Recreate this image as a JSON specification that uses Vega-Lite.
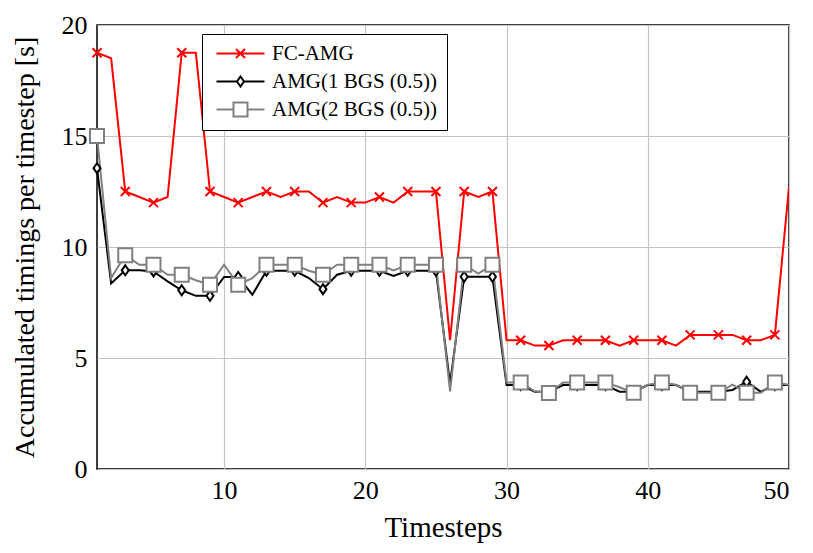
{
  "$schema": "https://vega.github.io/schema/vega-lite/v6.json",
  "width": 692,
  "height": 444,
  "autosize": {"type": "none"},
  "padding": {"left": 97, "top": 25, "right": 24, "bottom": 84},
  "background": "white",
  "config": {
    "view": {"stroke": "black", "strokeWidth": 1.5},
    "font": "Liberation Serif",
    "axis": {
      "labelFont": "Liberation Serif",
      "labelFontSize": 26,
      "labelColor": "black",
      "titleFont": "Liberation Serif",
      "titleFontSize": 28,
      "titleFontWeight": "normal",
      "titleColor": "black",
      "ticks": false,
      "domain": false,
      "gridColor": "#c4c4c4",
      "gridWidth": 1.2,
      "gridOpacity": 1
    }
  },
  "data": {"values": [
    {"t":1,"s":"FC-AMG","v":18.75},{"t":2,"s":"FC-AMG","v":18.5},{"t":3,"s":"FC-AMG","v":12.5},{"t":4,"s":"FC-AMG","v":12.25},{"t":5,"s":"FC-AMG","v":12.0},
    {"t":6,"s":"FC-AMG","v":12.25},{"t":7,"s":"FC-AMG","v":18.75},{"t":8,"s":"FC-AMG","v":18.75},{"t":9,"s":"FC-AMG","v":12.5},{"t":10,"s":"FC-AMG","v":12.25},
    {"t":11,"s":"FC-AMG","v":12.0},{"t":12,"s":"FC-AMG","v":12.25},{"t":13,"s":"FC-AMG","v":12.5},{"t":14,"s":"FC-AMG","v":12.25},{"t":15,"s":"FC-AMG","v":12.5},
    {"t":16,"s":"FC-AMG","v":12.5},{"t":17,"s":"FC-AMG","v":12.0},{"t":18,"s":"FC-AMG","v":12.25},{"t":19,"s":"FC-AMG","v":12.0},{"t":20,"s":"FC-AMG","v":12.0},
    {"t":21,"s":"FC-AMG","v":12.25},{"t":22,"s":"FC-AMG","v":12.0},{"t":23,"s":"FC-AMG","v":12.5},{"t":24,"s":"FC-AMG","v":12.5},{"t":25,"s":"FC-AMG","v":12.5},
    {"t":26,"s":"FC-AMG","v":5.8},{"t":27,"s":"FC-AMG","v":12.5},{"t":28,"s":"FC-AMG","v":12.25},{"t":29,"s":"FC-AMG","v":12.5},{"t":30,"s":"FC-AMG","v":5.8},
    {"t":31,"s":"FC-AMG","v":5.8},{"t":32,"s":"FC-AMG","v":5.56},{"t":33,"s":"FC-AMG","v":5.56},{"t":34,"s":"FC-AMG","v":5.8},{"t":35,"s":"FC-AMG","v":5.8},
    {"t":36,"s":"FC-AMG","v":5.8},{"t":37,"s":"FC-AMG","v":5.8},{"t":38,"s":"FC-AMG","v":5.56},{"t":39,"s":"FC-AMG","v":5.8},{"t":40,"s":"FC-AMG","v":5.8},
    {"t":41,"s":"FC-AMG","v":5.8},{"t":42,"s":"FC-AMG","v":5.56},{"t":43,"s":"FC-AMG","v":6.04},{"t":44,"s":"FC-AMG","v":6.04},{"t":45,"s":"FC-AMG","v":6.04},
    {"t":46,"s":"FC-AMG","v":6.04},{"t":47,"s":"FC-AMG","v":5.8},{"t":48,"s":"FC-AMG","v":5.8},{"t":49,"s":"FC-AMG","v":6.04},{"t":50,"s":"FC-AMG","v":12.7},

    {"t":1,"s":"AMG(1 BGS (0.5))","v":13.55},{"t":2,"s":"AMG(1 BGS (0.5))","v":8.36},{"t":3,"s":"AMG(1 BGS (0.5))","v":8.95},{"t":4,"s":"AMG(1 BGS (0.5))","v":8.95},{"t":5,"s":"AMG(1 BGS (0.5))","v":8.9},
    {"t":6,"s":"AMG(1 BGS (0.5))","v":8.45},{"t":7,"s":"AMG(1 BGS (0.5))","v":8.05},{"t":8,"s":"AMG(1 BGS (0.5))","v":7.8},{"t":9,"s":"AMG(1 BGS (0.5))","v":7.8},{"t":10,"s":"AMG(1 BGS (0.5))","v":8.65},
    {"t":11,"s":"AMG(1 BGS (0.5))","v":8.65},{"t":12,"s":"AMG(1 BGS (0.5))","v":7.85},{"t":13,"s":"AMG(1 BGS (0.5))","v":8.93},{"t":14,"s":"AMG(1 BGS (0.5))","v":8.93},{"t":15,"s":"AMG(1 BGS (0.5))","v":8.93},
    {"t":16,"s":"AMG(1 BGS (0.5))","v":8.6},{"t":17,"s":"AMG(1 BGS (0.5))","v":8.1},{"t":18,"s":"AMG(1 BGS (0.5))","v":8.75},{"t":19,"s":"AMG(1 BGS (0.5))","v":8.93},{"t":20,"s":"AMG(1 BGS (0.5))","v":8.93},
    {"t":21,"s":"AMG(1 BGS (0.5))","v":8.93},{"t":22,"s":"AMG(1 BGS (0.5))","v":8.7},{"t":23,"s":"AMG(1 BGS (0.5))","v":8.93},{"t":24,"s":"AMG(1 BGS (0.5))","v":8.93},{"t":25,"s":"AMG(1 BGS (0.5))","v":8.93},
    {"t":26,"s":"AMG(1 BGS (0.5))","v":3.85},{"t":27,"s":"AMG(1 BGS (0.5))","v":8.66},{"t":28,"s":"AMG(1 BGS (0.5))","v":8.66},{"t":29,"s":"AMG(1 BGS (0.5))","v":8.66},{"t":30,"s":"AMG(1 BGS (0.5))","v":3.78},
    {"t":31,"s":"AMG(1 BGS (0.5))","v":3.78},{"t":32,"s":"AMG(1 BGS (0.5))","v":3.48},{"t":33,"s":"AMG(1 BGS (0.5))","v":3.48},{"t":34,"s":"AMG(1 BGS (0.5))","v":3.78},{"t":35,"s":"AMG(1 BGS (0.5))","v":3.78},
    {"t":36,"s":"AMG(1 BGS (0.5))","v":3.78},{"t":37,"s":"AMG(1 BGS (0.5))","v":3.78},{"t":38,"s":"AMG(1 BGS (0.5))","v":3.48},{"t":39,"s":"AMG(1 BGS (0.5))","v":3.48},{"t":40,"s":"AMG(1 BGS (0.5))","v":3.78},
    {"t":41,"s":"AMG(1 BGS (0.5))","v":3.78},{"t":42,"s":"AMG(1 BGS (0.5))","v":3.78},{"t":43,"s":"AMG(1 BGS (0.5))","v":3.48},{"t":44,"s":"AMG(1 BGS (0.5))","v":3.48},{"t":45,"s":"AMG(1 BGS (0.5))","v":3.48},
    {"t":46,"s":"AMG(1 BGS (0.5))","v":3.56},{"t":47,"s":"AMG(1 BGS (0.5))","v":3.93},{"t":48,"s":"AMG(1 BGS (0.5))","v":3.48},{"t":49,"s":"AMG(1 BGS (0.5))","v":3.78},{"t":50,"s":"AMG(1 BGS (0.5))","v":3.78},

    {"t":1,"s":"AMG(2 BGS (0.5))","v":15.0},{"t":2,"s":"AMG(2 BGS (0.5))","v":8.6},{"t":3,"s":"AMG(2 BGS (0.5))","v":9.63},{"t":4,"s":"AMG(2 BGS (0.5))","v":9.2},{"t":5,"s":"AMG(2 BGS (0.5))","v":9.2},
    {"t":6,"s":"AMG(2 BGS (0.5))","v":8.75},{"t":7,"s":"AMG(2 BGS (0.5))","v":8.75},{"t":8,"s":"AMG(2 BGS (0.5))","v":8.5},{"t":9,"s":"AMG(2 BGS (0.5))","v":8.3},{"t":10,"s":"AMG(2 BGS (0.5))","v":9.2},
    {"t":11,"s":"AMG(2 BGS (0.5))","v":8.3},{"t":12,"s":"AMG(2 BGS (0.5))","v":8.6},{"t":13,"s":"AMG(2 BGS (0.5))","v":9.2},{"t":14,"s":"AMG(2 BGS (0.5))","v":9.2},{"t":15,"s":"AMG(2 BGS (0.5))","v":9.2},
    {"t":16,"s":"AMG(2 BGS (0.5))","v":8.93},{"t":17,"s":"AMG(2 BGS (0.5))","v":8.75},{"t":18,"s":"AMG(2 BGS (0.5))","v":9.2},{"t":19,"s":"AMG(2 BGS (0.5))","v":9.2},{"t":20,"s":"AMG(2 BGS (0.5))","v":9.2},
    {"t":21,"s":"AMG(2 BGS (0.5))","v":9.2},{"t":22,"s":"AMG(2 BGS (0.5))","v":8.95},{"t":23,"s":"AMG(2 BGS (0.5))","v":9.2},{"t":24,"s":"AMG(2 BGS (0.5))","v":9.2},{"t":25,"s":"AMG(2 BGS (0.5))","v":9.2},
    {"t":26,"s":"AMG(2 BGS (0.5))","v":3.5},{"t":27,"s":"AMG(2 BGS (0.5))","v":9.2},{"t":28,"s":"AMG(2 BGS (0.5))","v":8.8},{"t":29,"s":"AMG(2 BGS (0.5))","v":9.2},{"t":30,"s":"AMG(2 BGS (0.5))","v":3.9},
    {"t":31,"s":"AMG(2 BGS (0.5))","v":3.9},{"t":32,"s":"AMG(2 BGS (0.5))","v":3.5},{"t":33,"s":"AMG(2 BGS (0.5))","v":3.42},{"t":34,"s":"AMG(2 BGS (0.5))","v":3.9},{"t":35,"s":"AMG(2 BGS (0.5))","v":3.9},
    {"t":36,"s":"AMG(2 BGS (0.5))","v":3.9},{"t":37,"s":"AMG(2 BGS (0.5))","v":3.9},{"t":38,"s":"AMG(2 BGS (0.5))","v":3.68},{"t":39,"s":"AMG(2 BGS (0.5))","v":3.43},{"t":40,"s":"AMG(2 BGS (0.5))","v":3.8},
    {"t":41,"s":"AMG(2 BGS (0.5))","v":3.9},{"t":42,"s":"AMG(2 BGS (0.5))","v":3.8},{"t":43,"s":"AMG(2 BGS (0.5))","v":3.43},{"t":44,"s":"AMG(2 BGS (0.5))","v":3.43},{"t":45,"s":"AMG(2 BGS (0.5))","v":3.43},
    {"t":46,"s":"AMG(2 BGS (0.5))","v":3.8},{"t":47,"s":"AMG(2 BGS (0.5))","v":3.43},{"t":48,"s":"AMG(2 BGS (0.5))","v":3.43},{"t":49,"s":"AMG(2 BGS (0.5))","v":3.9},{"t":50,"s":"AMG(2 BGS (0.5))","v":3.8}
  ]},
  "encoding": {
    "x": {"field": "t", "type": "quantitative",
      "scale": {"domain": [1, 50], "nice": false, "zero": false},
      "axis": {"values": [10, 20, 30, 40, 50], "title": "Timesteps", "labelPadding": 8, "titlePadding": 10, "titleFontSize": 29}},
    "y": {"field": "v", "type": "quantitative",
      "scale": {"domain": [0, 20], "nice": false},
      "axis": {"values": [0, 5, 10, 15, 20], "title": "Accumulated timings per timestep [s]", "labelPadding": 10, "titlePadding": 22}},
    "color": {"field": "s", "type": "nominal",
      "scale": {"domain": ["FC-AMG", "AMG(1 BGS (0.5))", "AMG(2 BGS (0.5))"], "range": ["#ff0000", "#000000", "#808080"]},
      "legend": {
        "orient": "none", "legendX": 105, "legendY": 9,
        "title": null,
        "strokeColor": "black", "fillColor": "white", "padding": 9,
        "labelFont": "Liberation Serif", "labelFontSize": 21, "labelColor": "black", "labelLimit": 400,
        "symbolSize": 100, "symbolStrokeWidth": 2, "symbolOffset": 19, "labelOffset": 21,
        "symbolFillColor": "white", "symbolOpacity": 1,
        "rowPadding": 6,
        "symbolType": {"expr": "datum.value === 'FC-AMG' ? 'M-4.8,0H4.8M-0.9,-0.9L0.9,0.9M-0.9,0.9L0.9,-0.9' : (datum.value === 'AMG(1 BGS (0.5))' ? 'M-4.8,0H-0.7M0.7,0H4.8M0,-1L0.7,0L0,1L-0.7,0Z' : 'M-4.8,0H-1.4M1.4,0H4.8M-1.4,-1.4H1.4V1.4H-1.4Z')"}
      }}
  },
  "layer": [
    {
      "mark": {"type": "line", "strokeWidth": 2, "clip": true},
      "encoding": {
        "order": {"field": "t", "type": "quantitative"}
      }
    },
    {
      "transform": [{"filter": "datum.s === 'FC-AMG' && datum.t % 2 == 1"}],
      "mark": {"type": "point", "filled": false, "fill": "white", "size": 100, "strokeWidth": 2, "opacity": 1, "clip": false,
        "shape": "M-0.9,-0.9L0.9,0.9M-0.9,0.9L0.9,-0.9"}
    },
    {
      "transform": [{"filter": "datum.s === 'AMG(1 BGS (0.5))' && datum.t % 2 == 1"}],
      "mark": {"type": "point", "filled": false, "fill": "white", "size": 100, "strokeWidth": 2, "opacity": 1, "clip": false,
        "shape": "M0,-1L0.7,0L0,1L-0.7,0Z"}
    },
    {
      "transform": [{"filter": "datum.s === 'AMG(2 BGS (0.5))' && datum.t % 2 == 1"}],
      "mark": {"type": "point", "filled": false, "fill": "white", "size": 100, "strokeWidth": 2, "opacity": 1, "clip": false,
        "shape": "M-1.4,-1.4H1.4V1.4H-1.4Z"}
    }
  ]
}
